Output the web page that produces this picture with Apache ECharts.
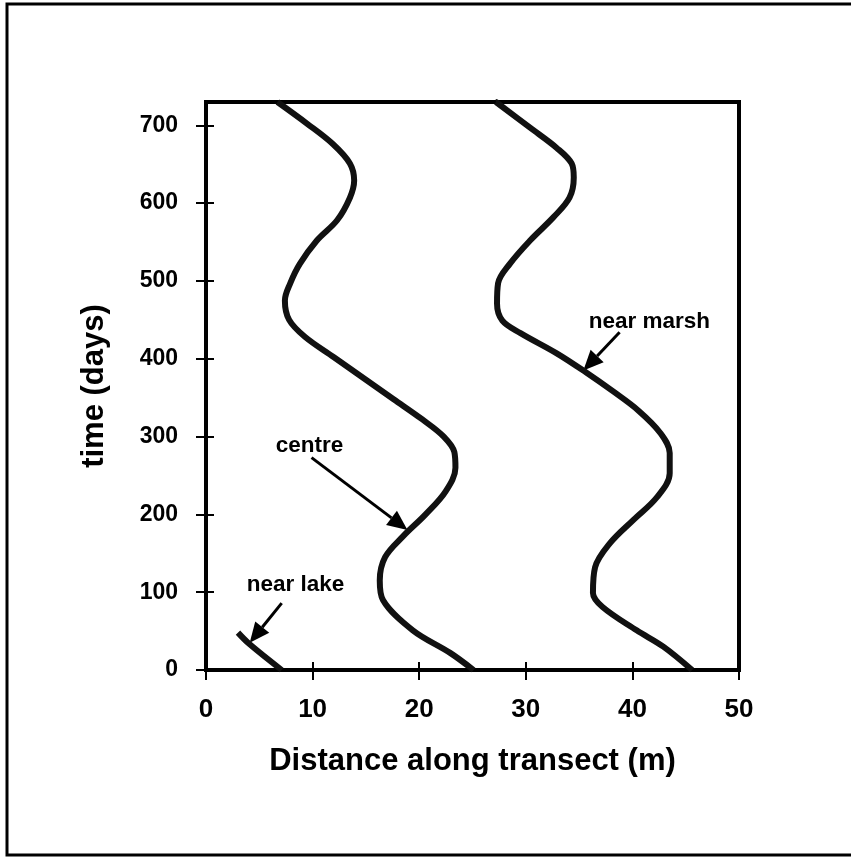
<!DOCTYPE html>
<html>
<head>
<meta charset="utf-8">
<script src="https://cdn.jsdelivr.net/npm/echarts@6/dist/echarts.min.js"></script>
<style>
  html, body { margin: 0; padding: 0; background: #fff; }
  #chart { width: 851px; height: 857px; }
</style>
</head>
<body>
<div id="chart"></div>
<script>
  // distance along transect (m) and time (days)
  var centreX = [25.1, 22.9, 19.4, 16.6, 16.3, 16.8, 18.5, 20.6, 22.5, 23.4, 23.3, 22.3, 20.3, 17.6, 14.8, 12.0, 9.3, 7.8, 7.4, 7.9, 8.8, 10.4, 12.3, 13.5, 13.9, 13.5, 11.9, 9.5, 6.7];
  var centreT = [0, 22, 51, 90, 115, 145, 172, 200, 230, 260, 280, 300, 322, 348, 375, 402, 428, 450, 475, 497, 522, 552, 578, 607, 629, 651, 676, 702, 730];
  var marshX = [45.6, 42.9, 40.4, 37.2, 36.3, 36.5, 37.9, 40.1, 42.3, 43.5, 43.5, 42.6, 40.6, 38.2, 35.6, 32.9, 29.5, 27.8, 27.3, 27.4, 28.5, 30.4, 32.6, 34.1, 34.5, 34.3, 32.9, 30.4, 27.2];
  var marshT = [0, 30, 51, 81, 99, 132, 163, 193, 222, 253, 279, 305, 333, 358, 383, 407, 433, 449, 471, 497, 522, 552, 582, 607, 633, 651, 671, 697, 730];
  var lakeX = [3.0, 4.1, 7.1];
  var lakeT = [48, 33, 0];

  var xTicks = [0, 10, 20, 30, 40, 50];
  var yTicks = [0, 100, 200, 300, 400, 500, 600, 700];

  // annotation labels and their arrows, in data units
  var noteText = ['near lake', 'centre', 'near marsh'];
  var noteX = [8.4, 9.7, 41.6];
  var noteT = [109, 288, 448];
  var arrowFromX = [7.1, 9.9, 38.8];
  var arrowFromT = [86, 273, 434];
  var arrowToX = [4.1, 18.9, 35.4];
  var arrowToT = [35, 180, 385];

  var font = "'Liberation Sans', Arial, Helvetica, sans-serif";

  function pairs(xs, ts) {
    var out = [];
    for (var i = 0; i < xs.length; i++) out.push([xs[i], ts[i]]);
    return out;
  }

  function curve(name, xs, ts) {
    return {
      name: name,
      type: 'line',
      data: pairs(xs, ts),
      showSymbol: false,
      smooth: 0.35,
      lineStyle: { color: '#111', width: 6 },
      xAxisIndex: 0,
      yAxisIndex: 0
    };
  }

  var chart = echarts.init(document.getElementById('chart'));
  var option = {
    animation: false,
    backgroundColor: '#fff',
    grid: {
      left: 206, top: 102, right: 112, bottom: 187,
      show: true, borderColor: '#000', borderWidth: 4
    },
    xAxis: [{
      type: 'value',
      min: xTicks[0], max: xTicks[xTicks.length - 1], interval: 10,
      axisLine: { show: true, lineStyle: { color: '#000', width: 4 } },
      axisTick: { show: true, length: 10, lineStyle: { color: '#000', width: 2 } },
      axisLabel: { margin: 27, color: '#000', fontSize: 26, fontWeight: 'bold', fontFamily: font },
      splitLine: { show: false },
      name: 'Distance along transect (m)',
      nameLocation: 'middle',
      nameGap: 76,
      nameTextStyle: { color: '#000', fontSize: 31, fontWeight: 'bold', fontFamily: font }
    }, {
      type: 'value', position: 'bottom',
      min: xTicks[0], max: xTicks[xTicks.length - 1], interval: 10,
      axisLine: { show: false },
      axisTick: { show: true, inside: true, length: 8, lineStyle: { color: '#000', width: 2 } },
      axisLabel: { show: false },
      splitLine: { show: false }
    }],
    yAxis: [{
      type: 'value',
      min: yTicks[0], max: 730, interval: 100,
      axisLine: { show: true, lineStyle: { color: '#000', width: 4 } },
      axisTick: { show: true, length: 10, lineStyle: { color: '#000', width: 2 } },
      axisLabel: { margin: 28, color: '#000', fontSize: 23, fontWeight: 'bold', fontFamily: font, showMaxLabel: false },
      splitLine: { show: false },
      name: 'time (days)',
      nameLocation: 'middle',
      nameGap: 96,
      nameTextStyle: { color: '#000', fontSize: 31, fontWeight: 'bold', fontFamily: font }
    }, {
      type: 'value', position: 'left',
      min: yTicks[0], max: 730, interval: 100,
      axisLine: { show: false },
      axisTick: { show: true, inside: true, length: 8, lineStyle: { color: '#000', width: 2 } },
      axisLabel: { show: false },
      splitLine: { show: false }
    }],
    series: [
      curve('near lake', lakeX, lakeT),
      curve('centre', centreX, centreT),
      curve('near marsh', marshX, marshT)
    ]
  };
  chart.setOption(option);

  // outer frame plus the labelled arrows
  var graphics = [{
    type: 'rect',
    shape: { x: 7, y: 4, width: 900, height: 851 },
    style: { fill: 'none', stroke: '#000', lineWidth: 3 },
    silent: true
  }];
  for (var i = 0; i < noteText.length; i++) {
    var p = chart.convertToPixel({ gridIndex: 0 }, [noteX[i], noteT[i]]);
    var a = chart.convertToPixel({ gridIndex: 0 }, [arrowFromX[i], arrowFromT[i]]);
    var b = chart.convertToPixel({ gridIndex: 0 }, [arrowToX[i], arrowToT[i]]);
    var dx = b[0] - a[0], dy = b[1] - a[1];
    var len = Math.sqrt(dx * dx + dy * dy);
    var ux = dx / len, uy = dy / len;
    var head = 20, half = 9;
    var bx = b[0] - ux * head, by = b[1] - uy * head;
    graphics.push({
      type: 'text', x: p[0], y: p[1],
      style: { text: noteText[i], fill: '#000', fontSize: 22.5, fontWeight: 'bold', fontFamily: font, align: 'center', verticalAlign: 'middle' }
    });
    graphics.push({
      type: 'line',
      shape: { x1: a[0], y1: a[1], x2: bx, y2: by },
      style: { stroke: '#000', lineWidth: 3 }
    });
    graphics.push({
      type: 'polygon',
      shape: { points: [[b[0], b[1]], [bx - uy * half, by + ux * half], [bx + uy * half, by - ux * half]] },
      style: { fill: '#000' }
    });
  }
  chart.setOption({ graphic: graphics });
</script>
</body>
</html>
